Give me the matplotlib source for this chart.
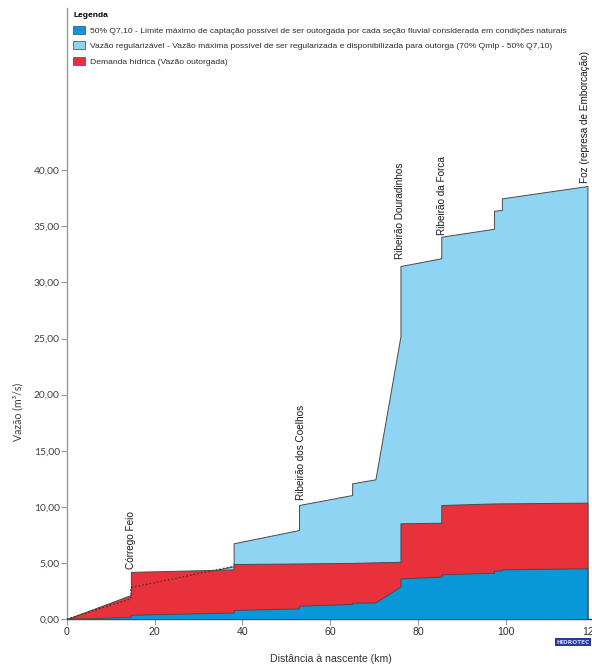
import matplotlib
matplotlib.use("Agg")
import matplotlib.pyplot as plt
from matplotlib.patches import Patch
from matplotlib.ticker import FuncFormatter
from matplotlib.transforms import ScaledTranslation

# Perfil de vazões ao longo do rio (distância à nascente em km, vazão em m³/s)
dist_regularizavel = [0, 14.6, 14.6, 38.0, 38.0, 52.9, 52.9, 65.0, 65.0, 70.3, 76.0, 76.0,
                      85.3, 85.3, 97.3, 97.3, 99.1, 99.1, 118.6]
vazao_regularizavel = [0, 1.80, 2.80, 4.70, 6.75, 7.93, 10.16, 11.05, 12.09, 12.45, 25.20, 31.46,
                       32.15, 34.07, 34.78, 36.39, 36.45, 37.49, 38.59]

dist_demanda = [0, 14.6, 14.6, 38.0, 38.0, 52.9, 65.0, 70.3, 76.0, 76.0,
                85.3, 85.3, 97.3, 118.6]
vazao_demanda = [0, 2.14, 4.20, 4.42, 4.90, 4.95, 5.00, 5.05, 5.10, 8.53,
                 8.58, 10.16, 10.30, 10.37]

dist_q710 = [0, 14.6, 14.6, 38.0, 38.0, 52.9, 52.9, 65.0, 65.0, 70.3, 76.0, 76.0,
             85.3, 85.3, 97.3, 97.3, 99.1, 99.1, 118.6]
vazao_q710 = [0, 0.20, 0.38, 0.58, 0.80, 0.95, 1.19, 1.34, 1.45, 1.47, 2.90, 3.62,
              3.77, 3.98, 4.13, 4.31, 4.33, 4.43, 4.52]

confluencias = ["Córrego Feio", "Ribeirão dos Coelhos", "Ribeirão Douradinhos",
                "Ribeirão da Forca", "Foz (represa de Emborcação)"]
dist_confluencias = [14.6, 52.9, 76.0, 85.3, 118.6]

legenda = [
    "50% Q7,10 - Limite máximo de captação possível de ser outorgada por cada seção fluvial considerada em condições naturais",
    "Vazão regularizável - Vazão máxima possível de ser regularizada e disponibilizada para outorga (70% Qmlp - 50% Q7,10)",
    "Demanda hídrica (Vazão outorgada)",
]

x_ticks = [0, 20, 40, 60, 80, 100, 120]
y_ticks = [0, 5, 10, 15, 20, 25, 30, 35, 40]

COR_Q710 = "#0897d8"
COR_REG = "#8fd4f3"
COR_DEM = "#e8313a"
COR_BORDA = "#4a4a4a"

W, H = 592, 665
fig = plt.figure(figsize=(W / 100, H / 100), dpi=100)
x0, x1 = 66.8, 593.6
y0, y1 = 619.0, 7.5
ax = fig.add_axes([x0 / W, (H - y0) / H, (x1 - x0) / W, (y0 - y1) / H])
ax.set_xlim(0, 120)
ax.set_ylim(0, (y0 - y1) / 11.22)

ax.fill_between(dist_regularizavel, vazao_regularizavel, 0, facecolor=COR_REG,
                edgecolor=COR_BORDA, linewidth=0.7, zorder=1)
ax.fill_between(dist_demanda, vazao_demanda, 0, facecolor=COR_DEM,
                edgecolor=COR_BORDA, linewidth=0.7, zorder=2)
ax.fill_between(dist_q710, vazao_q710, 0, facecolor=COR_Q710,
                edgecolor=COR_BORDA, linewidth=0.7, zorder=3)
# trecho da vazão regularizável encoberto pela demanda
ax.plot(dist_regularizavel[:4], vazao_regularizavel[:4], color="#333333",
        linewidth=0.9, linestyle=(0, (1.2, 1.8)), zorder=4)

# nomes das confluências, acima do topo do perfil
desloc = [(0.5, 3), (1.5, 5), (0, 7), (0.5, 2), (-2.5, 3)]
todos = [(dist_regularizavel, vazao_regularizavel), (dist_demanda, vazao_demanda),
         (dist_q710, vazao_q710)]
for nome, xd, (dx, dy) in zip(confluencias, dist_confluencias, desloc):
    topo = max(v for xs, ys in todos for xx, v in zip(xs, ys) if xx == xd)
    ax.annotate(nome, (xd, topo), xytext=(dx, dy), textcoords="offset pixels",
                rotation=90, ha="center", va="bottom", fontsize=7.2,
                family="Liberation Sans", color="#1a1a1a", zorder=5)

for s in ("top", "right"):
    ax.spines[s].set_visible(False)
ax.spines["left"].set_color("#9a9a9a")
ax.spines["left"].set_linewidth(1.0)
ax.spines["bottom"].set_color("#333333")
ax.spines["bottom"].set_linewidth(1.0)

ax.set_xticks(x_ticks)
ax.set_yticks(y_ticks)
ax.yaxis.set_major_formatter(FuncFormatter(lambda v, p: f"{v:.2f}".replace(".", ",")))
ax.tick_params(axis="y", length=4, width=0.8, color="#9a9a9a", pad=1.0,
               labelsize=7.4, labelcolor="#404040")
ax.tick_params(axis="x", length=4, width=0.8, color="#9a9a9a", pad=1.5,
               labelsize=7.6, labelcolor="#333333")
for t in ax.get_yticklabels():
    t.set_family("Lato")
for t in ax.get_xticklabels():
    t.set_family("Liberation Sans")
# o último rótulo fica junto à borda direita da figura
ultimo = ax.get_xticklabels()[-1]
ultimo.set_transform(ultimo.get_transform() + ScaledTranslation(-3 / 100, 0, fig.dpi_scale_trans))

fig.text(18 / W, 1 - 412 / H, "Vazão (m³/s)", rotation=90, ha="center", va="center",
         fontsize=7.6, family="Lato", color="#404040")
fig.text(331 / W, 1 - 659 / H, "Distância à nascente (km)", ha="center", va="center",
         fontsize=7.6, family="Liberation Sans", color="#333333")

handles = [Patch(facecolor=c, edgecolor="#5a5a5a", linewidth=0.6)
           for c in (COR_Q710, COR_REG, COR_DEM)]
leg = ax.legend(handles, legenda, title="Legenda", loc="upper left",
                bbox_to_anchor=(73 / W, 1 - 12 / H), bbox_transform=fig.transFigure,
                frameon=False, alignment="left", borderpad=0, borderaxespad=0,
                handlelength=1.4, handleheight=1.1, handletextpad=0.55,
                labelspacing=0.78, prop={"family": "Liberation Sans", "size": 6.1},
                title_fontproperties={"family": "Liberation Sans", "size": 6.0,
                                      "weight": "bold"})
for t in leg.get_texts():
    t.set_color("#2a2a2a")

fig.text(573 / W, 1 - 642 / H, "HIDROTEC", ha="center", va="center", fontsize=4.2,
         family="DejaVu Sans", color="#c9d2ff", weight="bold",
         bbox=dict(facecolor="#2a3a92", edgecolor="none", pad=0.8))

fig.savefig("out.png", dpi=100)
